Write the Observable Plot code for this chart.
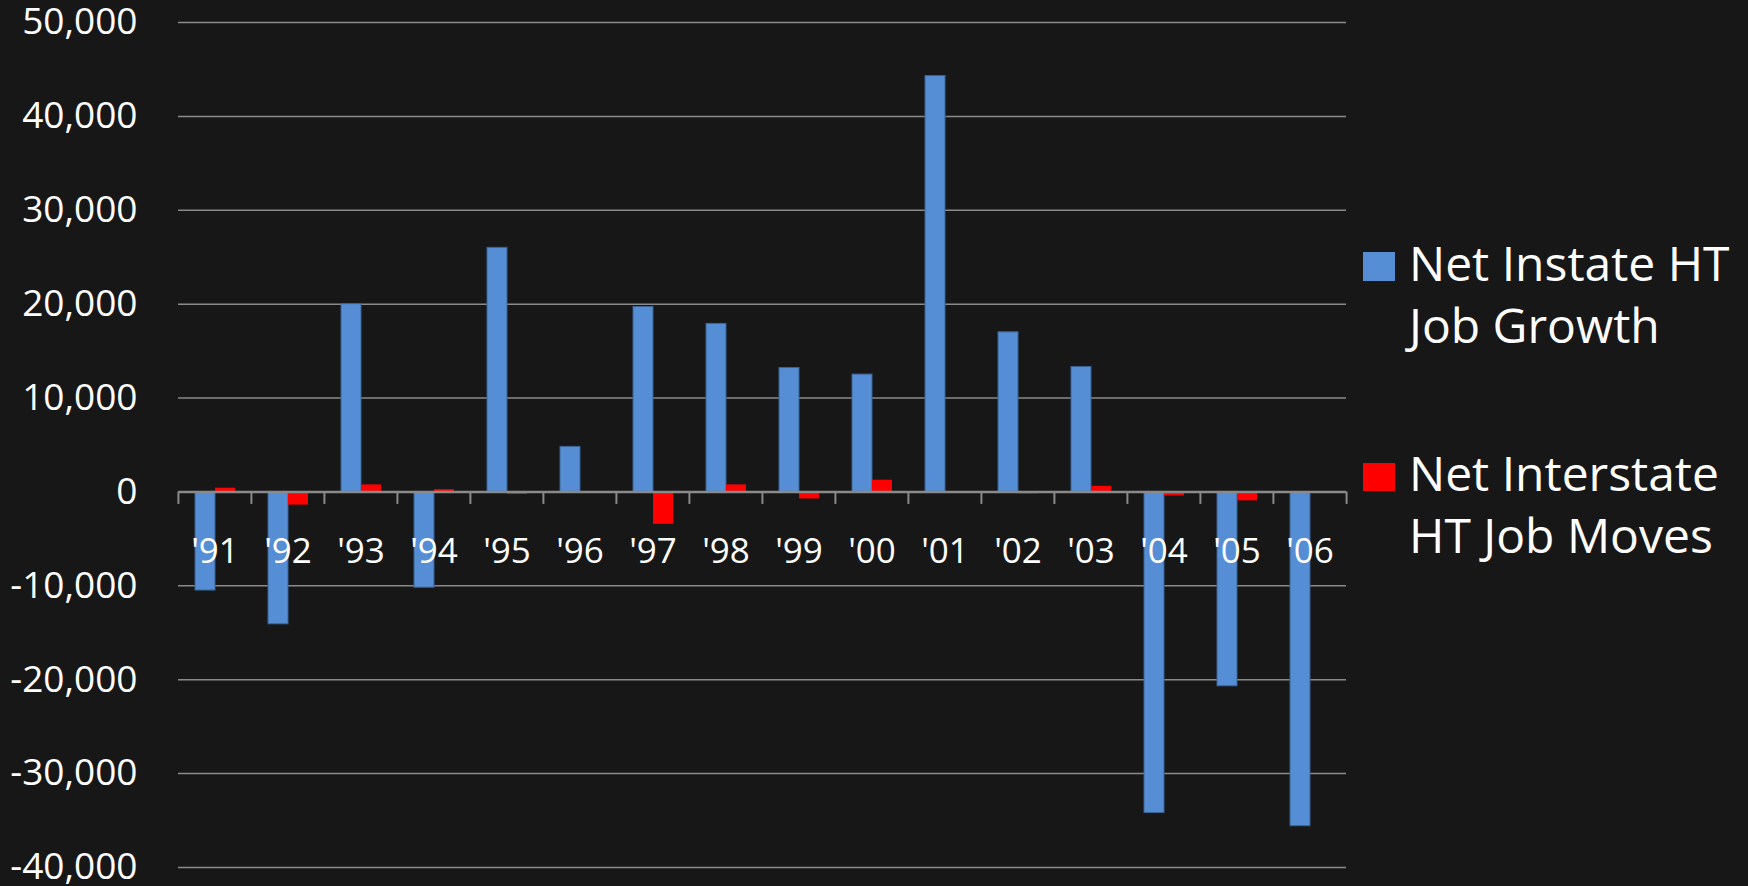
<!DOCTYPE html>
<html>
<head>
<meta charset="utf-8">
<script src="https://cdn.jsdelivr.net/npm/d3@7"></script>
<script src="https://cdn.jsdelivr.net/npm/@observablehq/plot@0.6"></script>
<style>
  html, body { margin: 0; padding: 0; background: #171717; }
  #wrap { position: relative; width: 1748px; height: 886px; font-family: "Open Sans", sans-serif; color: #fff; }
  #wrap svg { overflow: visible; }
  .leg-sq { position: absolute; }
  .leg-tx { position: absolute; font-size: 48px; line-height: 62px; width: 336px; color: #fff; }
</style>
</head>
<body>
<div id="wrap"></div>
<script>
const years = ["'91","'92","'93","'94","'95","'96","'97","'98","'99","'00","'01","'02","'03","'04","'05","'06"];
const seriesNames = ["Net Instate HT Job Growth", "Net Interstate HT Job Moves"];
const instate = [-10500, -14100, 20000, -10200, 26000, 4800, 19700, 17900, 13200, 12500, 44300, 17000, 13300, -34200, -20700, -35600];
const interstate = [400, -1400, 750, 250, -250, 0, -3450, 750, -750, 1250, 0, -200, 600, -400, -950, 0];
const seriesColors = ["#558ED5", "#FF0000"];
const yTicks = [-40000, -30000, -20000, -10000, 0, 10000, 20000, 30000, 40000, 50000];

const rows = [];
years.forEach((yr, i) => {
  rows.push({year: yr, series: seriesNames[0], value: instate[i]});
  rows.push({year: yr, series: seriesNames[1], value: interstate[i]});
});

const W = 1748, H = 886, mL = 176, mR = 401, mT = 22, mB = 19;
const facetW = (W - mL - mR) / years.length;
const yDomain = [-40000, 50000];
const perPx = (yDomain[1] - yDomain[0]) / (H - mT - mB);
const tickLen = 12.5 * perPx;
const gridColor = "#8a8a8a";

const chart = Plot.plot({
  width: W, height: H,
  marginLeft: mL, marginRight: mR, marginTop: mT, marginBottom: mB,
  style: {background: "#171717", color: "#fff", fontFamily: "Open Sans, sans-serif", overflow: "visible"},
  fx: {domain: years, padding: 0, axis: null},
  x: {domain: seriesNames, paddingInner: 0, paddingOuter: 0.785, axis: null},
  y: {domain: yDomain, axis: null},
  color: {domain: seriesNames, range: seriesColors},
  marks: [
    Plot.gridY(yTicks, {stroke: gridColor, strokeOpacity: 1, strokeWidth: 1.5}),
    Plot.axisY(yTicks, {tickSize: 0, tickPadding: 41, fontSize: 37, label: null,
      tickFormat: d => d.toLocaleString("en-US"), fill: "#fff"}),
    Plot.barY(rows, {fx: "year", x: "series", y: "value", fill: "series",
      stroke: d => d.series === seriesNames[0] ? "#3b6494" : "none", strokeWidth: 1}),
    Plot.ruleY([0], {stroke: gridColor, strokeWidth: 2.5}),
    Plot.ruleX(years, {fx: d => d, x: null, y1: 0, y2: -tickLen, dx: -facetW / 2, stroke: gridColor, strokeWidth: 2}),
    Plot.ruleX(years.slice(-1), {fx: d => d, x: null, y1: 0, y2: -tickLen, dx: facetW / 2, stroke: gridColor, strokeWidth: 2}),
    Plot.text(years, {fx: d => d, y: 0, text: d => d, dy: 60, fontSize: 35, fill: "#fff"})
  ]
});

const wrap = document.getElementById("wrap");
wrap.appendChild(chart);

const legPos = [{sq: [1363, 252, 32, 29], tx: [1409, 232]}, {sq: [1363, 463, 32, 28], tx: [1409, 442]}];
seriesNames.forEach((name, i) => {
  const p = legPos[i];
  const sq = document.createElement("div");
  sq.className = "leg-sq";
  Object.assign(sq.style, {left: p.sq[0] + "px", top: p.sq[1] + "px", width: p.sq[2] + "px", height: p.sq[3] + "px", background: seriesColors[i]});
  wrap.appendChild(sq);
  const tx = document.createElement("div");
  tx.className = "leg-tx";
  Object.assign(tx.style, {left: p.tx[0] + "px", top: p.tx[1] + "px"});
  tx.textContent = name;
  wrap.appendChild(tx);
});
</script>
</body>
</html>
